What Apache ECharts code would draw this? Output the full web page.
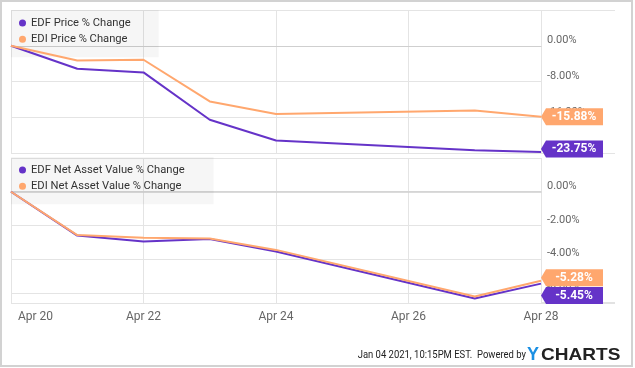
<!DOCTYPE html>
<html>
<head>
<meta charset="utf-8">
<script src="https://cdn.jsdelivr.net/npm/echarts@6/dist/echarts.min.js"></script>
<style>
  html, body { margin: 0; padding: 0; background: #fff; }
  #chart { width: 635px; height: 368px; }
</style>
</head>
<body>
<div id="chart"></div>
<script>
// ---- data ----
const dates = ['2020-04-20', '2020-04-21', '2020-04-22', '2020-04-23', '2020-04-24', '2020-04-27', '2020-04-28'];
const edfPrice = [0, -5.15, -5.97, -16.55, -21.2, -23.4, -23.75];
const ediPrice = [0, -3.29, -3.13, -12.46, -15.28, -14.5, -15.88];
const edfNav = [0, -2.60, -2.95, -2.80, -3.55, -6.33, -5.45];
const ediNav = [0, -2.57, -2.73, -2.78, -3.45, -6.22, -5.28];
const seriesNames = ['EDF Price % Change', 'EDI Price % Change', 'EDF Net Asset Value % Change', 'EDI Net Asset Value % Change'];
const monthNames = ['Jan', 'Feb', 'Mar', 'Apr', 'May', 'Jun', 'Jul', 'Aug', 'Sep', 'Oct', 'Nov', 'Dec'];
const footerText = 'Jan 04 2021, 10:15PM EST.  Powered by';

// ---- build ----
const DAY = 86400000;
const base = Date.parse(dates[0] + 'T00:00:00Z');
const xs = dates.map(d => (Date.parse(d + 'T00:00:00Z') - base) / DAY);
const xMax = xs[xs.length - 1];
const pair = vals => vals.map((v, i) => [xs[i], v]);
const dayLabel = v => {
  const d = new Date(base + v * DAY);
  return monthNames[d.getUTCMonth()] + ' ' + d.getUTCDate();
};

const PURPLE = '#6533c8';
const ORANGE = '#ffa76e';
const TAG = 'path://M0,8.5L5,0L62,0L62,17L5,17Z';
const FONT = 'Roboto';

function tag(vals, color, dy) {
  const i = vals.length - 1;
  return {
    symbol: TAG,
    symbolSize: [62, 17],
    symbolOffset: [31, dy],
    silent: true,
    itemStyle: { color: color },
    label: {
      show: true, position: 'inside', offset: [2, 0],
      color: '#fff', fontWeight: 'bold', fontSize: 12, fontFamily: FONT,
      formatter: vals[i].toFixed(2) + '%'
    },
    data: [{ coord: [xs[i], vals[i]], value: vals[i] }]
  };
}

function line(name, vals, color, axisIdx, dy) {
  return {
    name: name, type: 'line',
    xAxisIndex: axisIdx, yAxisIndex: axisIdx,
    data: pair(vals),
    showSymbol: false, symbol: 'circle',
    color: color,
    lineStyle: { width: 2, color: color },
    emphasis: { disabled: true },
    z: 3,
    markPoint: tag(vals, color, dy)
  };
}

const gridLine = { show: true, lineStyle: { color: '#e4e4e4', width: 1 } };
const legendBase = {
  orient: 'vertical', left: 11, icon: 'circle', itemWidth: 7, itemHeight: 7,
  itemGap: 2.3, selectedMode: false, z: 1,
  backgroundColor: 'rgba(0,0,0,0.035)',
  textStyle: { fontSize: 11.2, color: '#333', fontFamily: FONT, lineHeight: 14 }
};

const option = {
  animation: false,
  backgroundColor: '#fff',
  textStyle: { fontFamily: FONT },
  grid: [
    { left: 11, right: 94, top: 10, height: 143 },
    { left: 11, right: 94, top: 158, height: 145 }
  ],
  legend: [
    Object.assign({}, legendBase, { top: 10, padding: [6, 28, 11, 8], data: seriesNames.slice(0, 2) }),
    Object.assign({}, legendBase, { top: 157, padding: [6, 29, 11, 8], data: seriesNames.slice(2, 4) })
  ],
  xAxis: [
    {
      type: 'value', gridIndex: 0, min: 0, max: xMax, interval: 2,
      axisLine: { show: true, lineStyle: { color: '#cfcfcf', width: 1 } },
      axisTick: { show: false }, axisLabel: { show: false },
      splitLine: gridLine
    },
    {
      type: 'value', gridIndex: 1, min: 0, max: xMax, interval: 2,
      axisLine: { show: true, lineStyle: { color: '#cfcfcf', width: 1.5 } },
      axisTick: { show: false },
      axisLabel: {
        show: true, color: '#666', fontSize: 12, fontFamily: FONT, margin: 8,
        alignMinLabel: 'left', formatter: v => (v === 0 ? '{f|' + dayLabel(v) + '}' : dayLabel(v)),
        rich: { f: { padding: [0, 0, 0, 7], color: '#666', fontSize: 12, fontFamily: FONT } }
      },
      splitLine: gridLine
    }
  ],
  yAxis: [
    {
      type: 'value', gridIndex: 0, position: 'right', min: -24, max: 8, interval: 8,
      axisLine: { show: false }, axisTick: { show: false },
      axisLabel: {
        color: '#666', fontSize: 11, fontFamily: FONT, margin: 6, verticalAlign: 'bottom',
        showMinLabel: false, showMaxLabel: false,
        formatter: v => v.toFixed(2) + '%'
      },
      splitLine: gridLine
    },
    {
      type: 'value', gridIndex: 1, position: 'right', min: -6.6, max: 2, splitNumber: 5,
      axisLine: { show: false }, axisTick: { show: false },
      axisLabel: {
        color: '#666', fontSize: 11, fontFamily: FONT, margin: 6, verticalAlign: 'bottom',
        showMinLabel: false, showMaxLabel: false,
        formatter: v => v.toFixed(2) + '%'
      },
      splitLine: gridLine
    }
  ],
  series: [
    line(seriesNames[0], edfPrice, PURPLE, 0, -3),
    line(seriesNames[1], ediPrice, ORANGE, 0, 0),
    line(seriesNames[2], edfNav, PURPLE, 1, 12),
    line(seriesNames[3], ediNav, ORANGE, 1, -3)
  ],
  graphic: [
    { type: 'rect', silent: true, z: -10, shape: { x: 1, y: 1, width: 631, height: 365 },
      style: { fill: 'none', stroke: '#d2d2d2', lineWidth: 2 } },
    { type: 'line', silent: true, z: -5, shape: { x1: 541, y1: 10.5, x2: 615, y2: 10.5 }, style: { stroke: '#e4e4e4', lineWidth: 1 } },
    { type: 'line', silent: true, z: -5, shape: { x1: 541, y1: 153.5, x2: 615, y2: 153.5 }, style: { stroke: '#e4e4e4', lineWidth: 1 } },
    { type: 'line', silent: true, z: -5, shape: { x1: 541, y1: 303, x2: 615, y2: 303 }, style: { stroke: '#d8d8d8', lineWidth: 1.5 } },
    { type: 'text', silent: true, x: 526, y: 355, scaleX: 0.86,
      style: { text: footerText, fill: '#222', font: '11px Roboto', align: 'right', verticalAlign: 'middle' } },
    { type: 'text', silent: true, x: 527, y: 355, scaleX: 1.0,
      style: { text: 'Y', fill: '#1a8fe3', font: 'bold 18px "Liberation Sans"', align: 'left', verticalAlign: 'middle' } },
    { type: 'text', silent: true, x: 541, y: 355, scaleX: 1.12,
      style: { text: 'CHARTS', fill: '#222', font: 'bold 17px "Liberation Sans"', align: 'left', verticalAlign: 'middle' } }
  ]
};

const chart = echarts.init(document.getElementById('chart'), null, { renderer: 'canvas' });
chart.setOption(option);
</script>
</body>
</html>
